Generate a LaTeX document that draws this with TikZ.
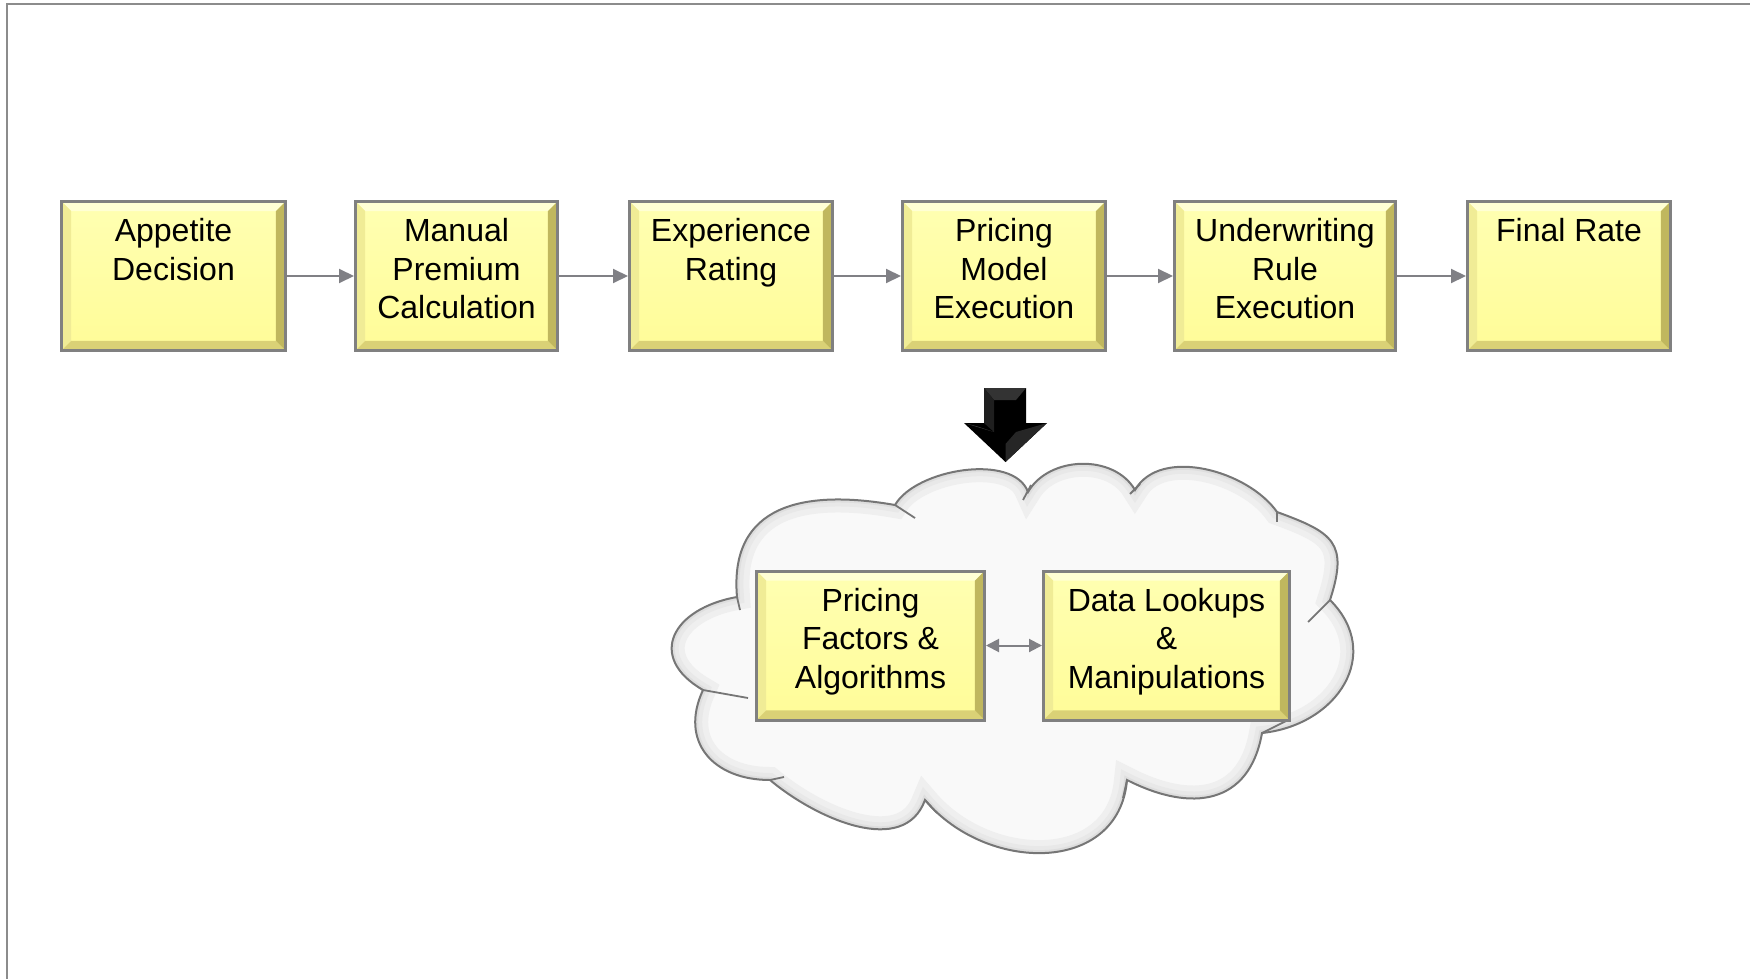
\documentclass[tikz,border=0pt]{standalone}
\usepackage{fontspec}
\setmainfont{Liberation Sans}
\usetikzlibrary{arrows.meta,calc}

\definecolor{boxline}{RGB}{128,128,128}
\definecolor{boxtop}{RGB}{255,255,178}
\definecolor{boxbot}{RGB}{255,252,152}
\definecolor{bevlight}{RGB}{255,255,212}
\definecolor{bevleft}{RGB}{240,236,150}
\definecolor{bevbottom}{RGB}{218,209,118}
\definecolor{bevright}{RGB}{192,183,94}
\definecolor{connline}{RGB}{128,128,133}
\definecolor{frameline}{RGB}{140,140,140}
\definecolor{cloudfill}{RGB}{249,249,249}
\definecolor{cloudshade}{RGB}{222,222,222}
\definecolor{cloudedge}{RGB}{118,118,118}

\newcommand{\bvw}{4.8pt}
% outline of the cloud, bump by bump (clockwise from the lower left)
\newcommand{\cloudoutline}{%
  (703,-690) to[out=150,in=190,looseness=1.7] (737,-597)
  to[out=95,in=170,looseness=1.3] (895,-505)
  to[out=60,in=110,looseness=0.8] (1028,-492)
  to[out=60,in=120,looseness=1] (1135,-490)
  to[out=60,in=125,looseness=0.9] (1277,-512)
  to[out=-20,in=72,looseness=1.5] (1330,-600)
  to[out=-45,in=6,looseness=1.3] (1262,-733)
  to[out=-100,in=-27,looseness=1.3] (1127,-780)
  to[out=-95,in=-50,looseness=1.2] (925,-800)
  to[out=-110,in=-40,looseness=1] (770,-780)
  to[out=180,in=245,looseness=1.3] (703,-690) -- cycle}

\begin{document}
\begin{tikzpicture}[x=0.5pt,y=0.5pt,
  stepbox/.style={draw=boxline, line width=1.5pt, inner sep=0pt,
    minimum height=74.5pt,
    path picture={
      \shade[top color=boxtop,bottom color=boxbot]
        (path picture bounding box.south west) rectangle (path picture bounding box.north east);
      \fill[bevlight] (path picture bounding box.north west) -- (path picture bounding box.north east)
        -- ([shift={(-\bvw,-\bvw)}]path picture bounding box.north east)
        -- ([shift={(\bvw,-\bvw)}]path picture bounding box.north west) -- cycle;
      \fill[bevleft] (path picture bounding box.north west) -- ([shift={(\bvw,-\bvw)}]path picture bounding box.north west)
        -- ([shift={(\bvw,\bvw)}]path picture bounding box.south west)
        -- (path picture bounding box.south west) -- cycle;
      \fill[bevbottom] (path picture bounding box.south west) -- ([shift={(\bvw,\bvw)}]path picture bounding box.south west)
        -- ([shift={(-\bvw,\bvw)}]path picture bounding box.south east)
        -- (path picture bounding box.south east) -- cycle;
      \fill[bevright] (path picture bounding box.north east) -- ([shift={(-\bvw,-\bvw)}]path picture bounding box.north east)
        -- ([shift={(-\bvw,\bvw)}]path picture bounding box.south east)
        -- (path picture bounding box.south east) -- cycle;
    }},
  lbl/.style={anchor=north, inner sep=0pt, align=center,
    font=\fontsize{16}{19.25}\selectfont},
  flow/.style={draw=connline, line width=1pt, -{Triangle[length=7.5pt,width=7pt]}},
  twoway/.style={draw=connline, line width=1pt,
    {Triangle[length=6.5pt,width=6.5pt]}-{Triangle[length=6.5pt,width=6.5pt]}},
  cloudtick/.style={draw=cloudedge, line width=0.9pt},
]
\useasboundingbox (0,0) rectangle (1750,-979);

% page frame
\draw[frameline, line width=1.2pt] (1750,-4) -- (7,-4) -- (7,-979);

% process steps
\node[stepbox, minimum width=112pt] (b1) at (173.5,-276) {};
\node[stepbox, minimum width=101pt] (b2) at (456.5,-276) {};
\node[stepbox, minimum width=101.5pt] (b3) at (731,-276) {};
\node[stepbox, minimum width=101.5pt] (b4) at (1004,-276) {};
\node[stepbox, minimum width=110.5pt] (b5) at (1285,-276) {};
\node[stepbox, minimum width=101.5pt] (b6) at (1569,-276) {};

\node[lbl] (t1) at ([yshift=-9pt]b1.north) {Appetite\\Decision};
\node[lbl] (t2) at ([yshift=-9pt]b2.north) {Manual\\Premium\\Calculation};
\node[lbl] (t3) at ([yshift=-9pt]b3.north) {Experience\\Rating};
\node[lbl] (t4) at ([yshift=-9pt]b4.north) {Pricing\\Model\\Execution};
\node[lbl] (t5) at ([yshift=-9pt]b5.north) {Underwriting\\Rule\\Execution};
\node[lbl] (t6) at ([yshift=-9pt]b6.north) {Final Rate};

\draw[flow] (b1.east) -- (b2.west);
\draw[flow] (b2.east) -- (b3.west);
\draw[flow] (b3.east) -- (b4.west);
\draw[flow] (b4.east) -- (b5.west);
\draw[flow] (b5.east) -- (b6.west);

% block arrow down into the cloud
\fill[black] (984,-388) -- (1026,-388) -- (1026,-423) -- (1047,-423)
  -- (1005.5,-462) -- (964,-423) -- (984,-423) -- cycle;
\fill[black!80!white] (984,-388) -- (1026,-388) -- (1016,-400) -- (994,-400) -- cycle;
\fill[black!88!white] (984,-388) -- (994,-400) -- (994,-432) -- (984,-423) -- cycle;
\fill[black!75!white] (994,-432) -- (976,-426) -- (964,-423) -- cycle;
\fill[black!85!white] (1005.5,-462) -- (1005.5,-444) -- (1016,-432) -- (1047,-423) -- cycle;

% cloud with a soft inner rim
\fill[cloudfill] \cloudoutline;
\begin{scope}
  \clip \cloudoutline;
  \draw[cloudshade!35!cloudfill, line width=13pt] \cloudoutline;
  \draw[cloudshade!65!cloudfill, line width=7pt] \cloudoutline;
  \draw[cloudshade, line width=3pt] \cloudoutline;
\end{scope}
\draw[cloudedge, line width=1pt] \cloudoutline;
\draw[cloudtick] (737,-597) -- (740,-610);
\draw[cloudtick] (895,-505) -- (915,-518);
\draw[cloudtick] (1031,-485) -- (1023,-500);
\draw[cloudtick] (1140,-484) -- (1130,-494);
\draw[cloudtick] (1277,-512) -- (1277,-522);
\draw[cloudtick] (1330,-600) -- (1308,-622);
\draw[cloudtick] (1262,-733) -- (1288,-720);
\draw[cloudtick] (1127,-780) -- (1123,-798);
\draw[cloudtick] (925,-800) -- (937,-813);
\draw[cloudtick] (770,-780) -- (784,-777);
\draw[cloudtick] (703,-690) -- (748,-698);

% steps inside the cloud
\node[stepbox, minimum width=114pt] (c1) at (870.5,-645.5) {};
\node[stepbox, minimum width=123pt] (c2) at (1166.5,-645.5) {};
\node[lbl] (u1) at ([yshift=-9pt]c1.north) {Pricing\\Factors \&\\Algorithms};
\node[lbl] (u2) at ([yshift=-9pt]c2.north) {Data Lookups\\\&\\Manipulations};
\draw[twoway] (c1.east) -- (c2.west);
\end{tikzpicture}
\end{document}
